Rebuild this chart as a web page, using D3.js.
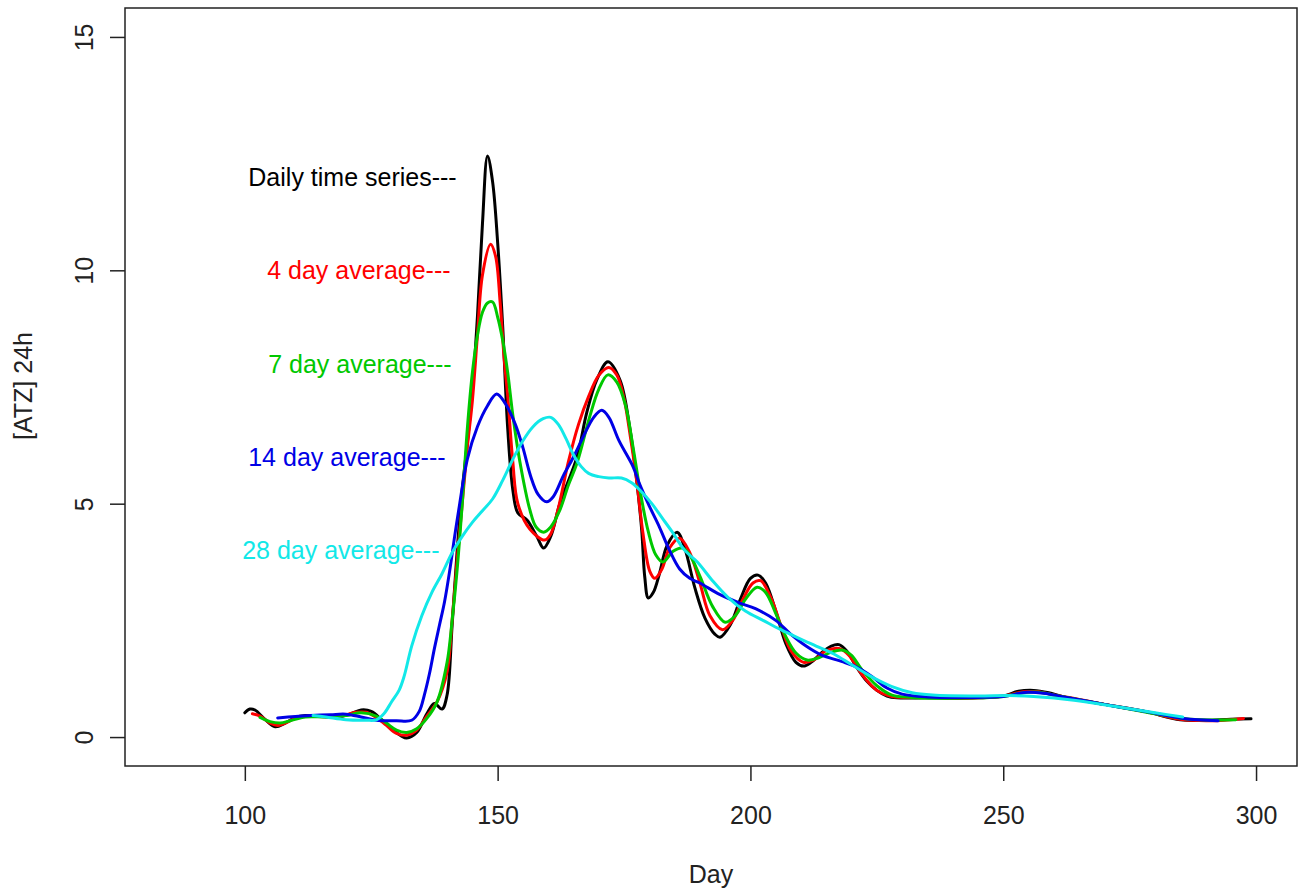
<!DOCTYPE html>
<html>
<head>
<meta charset="utf-8">
<script src="https://cdn.jsdelivr.net/npm/d3@7"></script>
<style>
  html, body { margin: 0; padding: 0; background: #fff; }
  svg { display: block; font-family: "Liberation Sans", Arial, sans-serif; }
</style>
</head>
<body>
<svg id="chart" width="1301" height="892"></svg>
<script>
// Daily atrazine concentration and its moving averages, [day, value]
const daily = [
  [100,0.52],[101,0.6],[102,0.58],[104,0.38],[106,0.22],[108,0.3],[110,0.42],[112,0.46],
  [115,0.45],[118,0.42],[121,0.5],[123,0.58],[125,0.55],[127,0.38],[129,0.18],[131,0.02],
  [132,-0.02],[134,0.1],[136,0.5],[137.5,0.72],[139,0.6],[140,0.9],[141,2.4],[142,4.0],
  [143,5.3],[144,6.3],[145,7.4],[146,9.0],[147,11.0],[148,12.45],[149,11.9],[150,10.6],
  [151,8.8],[152,6.6],[153,5.3],[154,4.8],[155.8,4.65],[157.8,4.29],[159.1,4.05],[160.5,4.3],
  [162.3,5.0],[165.7,6.0],[167.6,6.94],[169.6,7.65],[171.8,8.04],[174.2,7.65],[176.2,6.58],
  [177.5,5.5],[178.5,4.43],[179.1,3.43],[179.8,2.98],[180.8,3.1],[182,3.5],[183.5,4.1],
  [185.5,4.39],[187,4.05],[189,3.2],[191,2.55],[193,2.2],[194,2.14],[196,2.4],[198,2.95],
  [200,3.4],[201.5,3.47],[203,3.3],[205,2.7],[207,2.0],[209,1.6],[210.5,1.52],[212,1.6],
  [214,1.8],[216,1.95],[217.5,1.98],[219,1.85],[221,1.5],[223,1.2],[225,1.0],[227,0.88],
  [229,0.84],[235,0.84],[240,0.83],[245,0.84],[250,0.88],[253,0.98],[256,1.0],[259,0.95],
  [262,0.86],[270,0.7],[278,0.55],[285,0.37],[290,0.36],[295,0.38],[299,0.39]
];
const avg4 = [
  [101.5,0.5],[103,0.45],[105,0.3],[106.5,0.25],[108,0.3],[110,0.4],[113,0.45],[116,0.43],
  [119,0.45],[122,0.53],[124,0.53],[126,0.42],[128,0.25],[130,0.08],[132,0.04],[134,0.15],
  [136,0.45],[138,0.75],[140,1.4],[141,2.5],[142,3.8],[143,5.0],[144,6.2],[145,7.2],
  [146,8.6],[147,9.9],[148.6,10.56],[149.6,10.3],[150.5,9.3],[151.3,8.1],[152,7.3],[153,5.9],
  [154,5.0],[156.4,4.45],[159.3,4.22],[160.5,4.35],[162,4.9],[164,5.9],[166,6.7],[168,7.3],
  [170,7.75],[172,7.92],[173.6,7.75],[175,7.25],[176.3,6.4],[177.5,5.5],[178.7,4.4],
  [180.1,3.55],[181.1,3.4],[182.5,3.6],[184,4.05],[186,4.26],[188,3.95],[190,3.3],[192,2.6],
  [194.5,2.3],[196.5,2.5],[198.5,2.95],[200.5,3.3],[202,3.35],[204,3.0],[206,2.4],[208,1.85],
  [210.5,1.6],[212.5,1.65],[215,1.85],[217.5,1.9],[219.5,1.75],[222,1.35],[225,1.0],
  [228,0.87],[235,0.85],[245,0.84],[250,0.88],[254,0.97],[257,0.97],[260,0.9],[263,0.85],
  [270,0.7],[278,0.55],[285,0.38],[291,0.35],[297.5,0.4]
];
const avg7 = [
  [103,0.42],[105,0.33],[107,0.3],[109,0.35],[112,0.43],[116,0.43],[120,0.46],[123,0.52],
  [126,0.45],[128,0.3],[130,0.15],[132,0.1],[134,0.18],[136,0.4],[138,0.75],[140,1.6],
  [141,2.5],[142,3.6],[143,5.0],[144,6.6],[145,7.8],[146,8.6],[147,9.1],[148,9.3],
  [149,9.32],[150,9.0],[151,8.5],[152,7.8],[153,6.9],[154.4,5.9],[156.4,4.86],[157.6,4.5],
  [159.1,4.39],[160.5,4.5],[162.3,4.86],[164,5.4],[165.7,5.87],[168.2,6.86],[170,7.45],
  [171.8,7.76],[173.6,7.6],[175.3,7.1],[176.8,6.2],[178.3,5.2],[179.8,4.4],[181.3,3.9],
  [182.7,3.75],[184.7,3.98],[186.5,4.05],[188,3.9],[190,3.45],[192.5,2.8],[195,2.46],
  [197,2.6],[199,2.95],[201.3,3.21],[203,3.1],[205,2.65],[207,2.15],[209,1.8],[211.2,1.65],
  [213.5,1.7],[216,1.82],[218.3,1.86],[220,1.75],[222,1.45],[225,1.1],[228,0.9],[232,0.85],
  [245,0.84],[250,0.87],[254,0.95],[257,0.96],[261,0.88],[270,0.7],[280,0.5],[287,0.38],
  [296,0.37]
];
const avg14 = [
  [106.5,0.41],[110,0.44],[113,0.46],[117,0.48],[120,0.49],[123,0.43],[126,0.36],[130,0.35],
  [133,0.36],[134.5,0.55],[135.5,0.9],[136.5,1.35],[137.5,1.9],[138.5,2.4],[139.5,2.9],
  [140.5,3.55],[141.5,4.3],[142.5,5.0],[144,5.95],[146,6.65],[148,7.1],[149.8,7.35],
  [151.5,7.15],[153.5,6.7],[155,6.2],[156.5,5.6],[158,5.2],[159.7,5.04],[161,5.15],[163,5.6],
  [165,6.0],[167,6.45],[169,6.85],[170.6,7.0],[172,6.85],[174,6.35],[176.8,5.79],[178,5.44],
  [180,4.95],[182,4.5],[184,4.0],[186,3.6],[188,3.4],[190,3.3],[194,3.05],[197.9,2.87],
  [201,2.75],[205,2.5],[208,2.2],[211,1.95],[214,1.76],[218,1.62],[221,1.5],[224,1.3],
  [227,1.05],[230,0.92],[235,0.86],[245,0.85],[250,0.87],[254.7,0.96],[258,0.94],
  [262,0.86],[270,0.7],[278,0.55],[285.6,0.4],[292.5,0.35]
];
const avg28 = [
  [113.5,0.46],[116,0.43],[120,0.37],[124,0.36],[126,0.37],[127.5,0.5],[129,0.75],
  [130.5,1.0],[131.5,1.3],[133,1.95],[135,2.6],[137,3.1],[139,3.5],[141,3.95],[143,4.3],
  [145,4.6],[147,4.85],[149,5.1],[151,5.5],[153,5.95],[155,6.35],[157,6.65],[159,6.82],
  [160.5,6.85],[162,6.7],[163.5,6.4],[165,6.05],[166.5,5.8],[168,5.65],[170,5.58],
  [172,5.55],[174.5,5.55],[176.5,5.45],[178.5,5.25],[180.5,5.0],[182.5,4.7],[184.5,4.4],
  [187,4.0],[189.5,3.75],[192.5,3.35],[195.5,3.0],[199,2.7],[202.5,2.5],[206,2.3],
  [209.5,2.12],[213,1.95],[216.5,1.78],[220,1.55],[224,1.29],[228,1.08],[232,0.95],
  [236,0.9],[245,0.88],[251,0.89],[256,0.87],[264,0.79],[272,0.66],[280,0.52],[285.5,0.43]
];

const seriesNames = ["Daily time series---", "4 day average---", "7 day average---",
                     "14 day average---", "28 day average---"];
const seriesData = [daily, avg4, avg7, avg14, avg28];
const xTicks = [100, 150, 200, 250, 300];
const yTicks = [0, 5, 10, 15];

// Styling and layout
const colors = ["#000000", "#ff0000", "#00c800", "#0000e6", "#12e8e8"];
const labelAnchor = [[141.9, 12], [140.7, 10], [140.9, 8], [139.7, 6], [138.5, 4]];
const box = { left: 125, top: 8, right: 1297, bottom: 766 };
const fontSize = 25;
const ink = "#222";

const svg = d3.select("#chart");
const x = d3.scaleLinear().domain([76.3, 308.1]).range([box.left, box.right]);
const y = d3.scaleLinear().domain([-0.62, 15.62]).range([box.bottom, box.top]);

// Series lines
const line = d3.line()
  .x(d => x(d[0]))
  .y(d => y(d[1]))
  .curve(d3.curveCatmullRom.alpha(0.5));

svg.append("g")
  .selectAll("path")
  .data(seriesData)
  .join("path")
  .attr("d", line)
  .attr("fill", "none")
  .attr("stroke", (d, i) => colors[i])
  .attr("stroke-width", 3)
  .attr("stroke-linejoin", "round")
  .attr("stroke-linecap", "round");

// Series labels
svg.append("g")
  .selectAll("text")
  .data(seriesNames)
  .join("text")
  .attr("x", (d, i) => x(labelAnchor[i][0]))
  .attr("y", (d, i) => y(labelAnchor[i][1]))
  .attr("dy", "0.36em")
  .attr("text-anchor", "end")
  .attr("font-size", fontSize)
  .attr("fill", (d, i) => colors[i])
  .text(d => d);

// Plot frame
svg.append("rect")
  .attr("x", box.left).attr("y", box.top)
  .attr("width", box.right - box.left).attr("height", box.bottom - box.top)
  .attr("fill", "none").attr("stroke", ink).attr("stroke-width", 1.5);

// X axis
const gx = svg.append("g")
  .attr("transform", `translate(0,${box.bottom})`)
  .call(d3.axisBottom(x).tickValues(xTicks).tickSize(15).tickFormat(d3.format("d")));
gx.select(".domain").remove();
gx.selectAll(".tick line").attr("stroke", ink).attr("stroke-width", 1.5);
gx.selectAll(".tick text")
  .attr("y", 58).attr("dy", null)
  .attr("font-size", fontSize).attr("font-family", "Liberation Sans, Arial, sans-serif")
  .attr("fill", ink);

// Y axis
const gy = svg.append("g")
  .attr("transform", `translate(${box.left},0)`)
  .call(d3.axisLeft(y).tickValues(yTicks).tickSize(15).tickFormat(d3.format("d")));
gy.select(".domain").remove();
gy.selectAll(".tick line").attr("stroke", ink).attr("stroke-width", 1.5);
gy.selectAll(".tick text")
  .attr("x", null).attr("dy", null)
  .attr("transform", "translate(-32,0) rotate(-90)")
  .attr("text-anchor", "middle")
  .attr("font-size", fontSize).attr("font-family", "Liberation Sans, Arial, sans-serif")
  .attr("fill", ink);

// Axis titles
svg.append("text")
  .attr("x", (box.left + box.right) / 2).attr("y", 883)
  .attr("text-anchor", "middle").attr("font-size", fontSize).attr("fill", ink)
  .text("Day");
svg.append("text")
  .attr("transform", "translate(32,386) rotate(-90)")
  .attr("text-anchor", "middle").attr("font-size", fontSize).attr("fill", ink)
  .text("[ATZ] 24h");
</script>
</body>
</html>
